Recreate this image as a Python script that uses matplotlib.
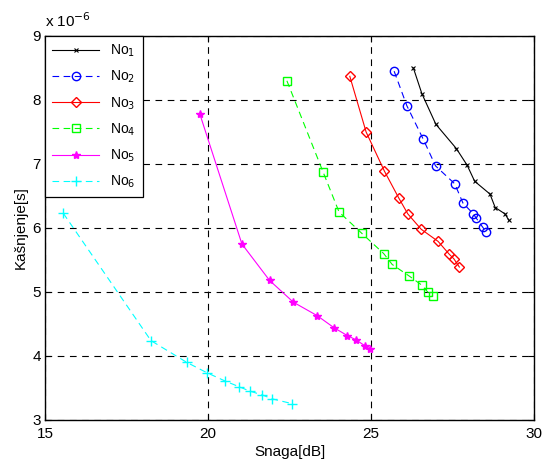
import numpy as np
import matplotlib
matplotlib.use("Agg")
import matplotlib.pyplot as plt
from matplotlib.ticker import FuncFormatter

plt.rcParams['font.family'] = ['Liberation Sans', 'DejaVu Sans']

# Data (delay in units of 1e-6 s)
x1 = [26.30, 26.56, 26.99, 27.62, 27.95, 28.18, 28.65, 28.81, 29.11, 29.23]
y1 = [8.50, 8.10, 7.62, 7.24, 6.98, 6.73, 6.53, 6.32, 6.22, 6.12]
x2 = [25.71, 26.10, 26.60, 26.98, 27.57, 27.82, 28.14, 28.22, 28.43, 28.53]
y2 = [8.45, 7.91, 7.39, 6.97, 6.69, 6.39, 6.22, 6.16, 6.01, 5.94]
x3 = [24.35, 24.85, 25.41, 25.85, 26.13, 26.54, 27.06, 27.40, 27.54, 27.71]
y3 = [8.37, 7.50, 6.89, 6.47, 6.22, 5.98, 5.79, 5.59, 5.52, 5.39]
x4 = [22.42, 23.53, 24.02, 24.71, 25.39, 25.65, 26.17, 26.55, 26.74, 26.90]
y4 = [8.30, 6.875, 6.25, 5.92, 5.60, 5.43, 5.25, 5.11, 5.00, 4.93]
x5 = [19.75, 21.04, 21.89, 22.62, 23.35, 23.87, 24.27, 24.55, 24.81, 24.97]
y5 = [7.78, 5.75, 5.18, 4.84, 4.63, 4.44, 4.32, 4.25, 4.16, 4.11]
x6 = [15.56, 18.25, 19.35, 19.96, 20.52, 20.95, 21.29, 21.67, 21.97, 22.58]
y6 = [6.23, 4.24, 3.90, 3.74, 3.61, 3.52, 3.45, 3.39, 3.33, 3.255]

labels = ["No$_1$", "No$_2$", "No$_3$", "No$_4$", "No$_5$", "No$_6$"]
SCALE = 1e-6

fig = plt.figure(figsize=(5.43, 4.59), dpi=100)
ax = fig.add_axes([0.0829, 0.085, 0.9005, 0.8366])

dash = (0, (6, 4))
ax.plot(x1, np.array(y1) * SCALE, color='black', marker='x', markersize=3.5, lw=0.8,
        markeredgewidth=0.8, label=labels[0])
ax.plot(x2, np.array(y2) * SCALE, color='blue', marker='o', markersize=6, lw=0.8,
        markerfacecolor='none', linestyle=dash, label=labels[1])
ax.plot(x3, np.array(y3) * SCALE, color='red', marker='D', markersize=5, lw=0.8,
        markerfacecolor='none', label=labels[2])
ax.plot(x4, np.array(y4) * SCALE, color='#00ff00', marker='s', markersize=6, lw=0.8,
        markerfacecolor='none', linestyle=dash, label=labels[3])
ax.plot(x5, np.array(y5) * SCALE, color='magenta', marker='*', markersize=6, lw=0.8,
        label=labels[4])
ax.plot(x6, np.array(y6) * SCALE, color='cyan', marker='+', markersize=7, lw=0.8,
        linestyle=dash, label=labels[5])

ax.set_xlim(15, 30)
ax.set_ylim(3e-6, 9e-6)
ax.set_xticks([15, 20, 25, 30])
ax.set_yticks(np.arange(3, 10) * SCALE)
ax.yaxis.set_major_formatter(FuncFormatter(lambda v, p: f"{v / SCALE:g}"))
ax.grid(True, color='black', linestyle=(0, (6, 5)), linewidth=0.8)
ax.set_axisbelow(True)
ax.tick_params(direction='in', labelsize=11, length=4, top=True, right=True)
ax.tick_params(axis='x', pad=5)
ax.tick_params(axis='y', pad=3)
for s in ax.spines.values():
    s.set_linewidth(1.0)

ax.set_xlabel("Snaga[dB]", fontsize=11, labelpad=3)
ax.set_ylabel("Kašnjenje[s]", fontsize=11, labelpad=3)
ax.text(0.0, 1.015, "x 10$^{-6}$", transform=ax.transAxes, fontsize=11,
        ha='left', va='bottom')

leg = ax.legend(loc='upper left', fontsize=10, handlelength=3.4, fancybox=False,
                edgecolor='black', framealpha=1, borderaxespad=0, labelspacing=0.7,
                borderpad=0.5)
leg.get_frame().set_linewidth(0.9)

fig.savefig("out.png", dpi=100)
